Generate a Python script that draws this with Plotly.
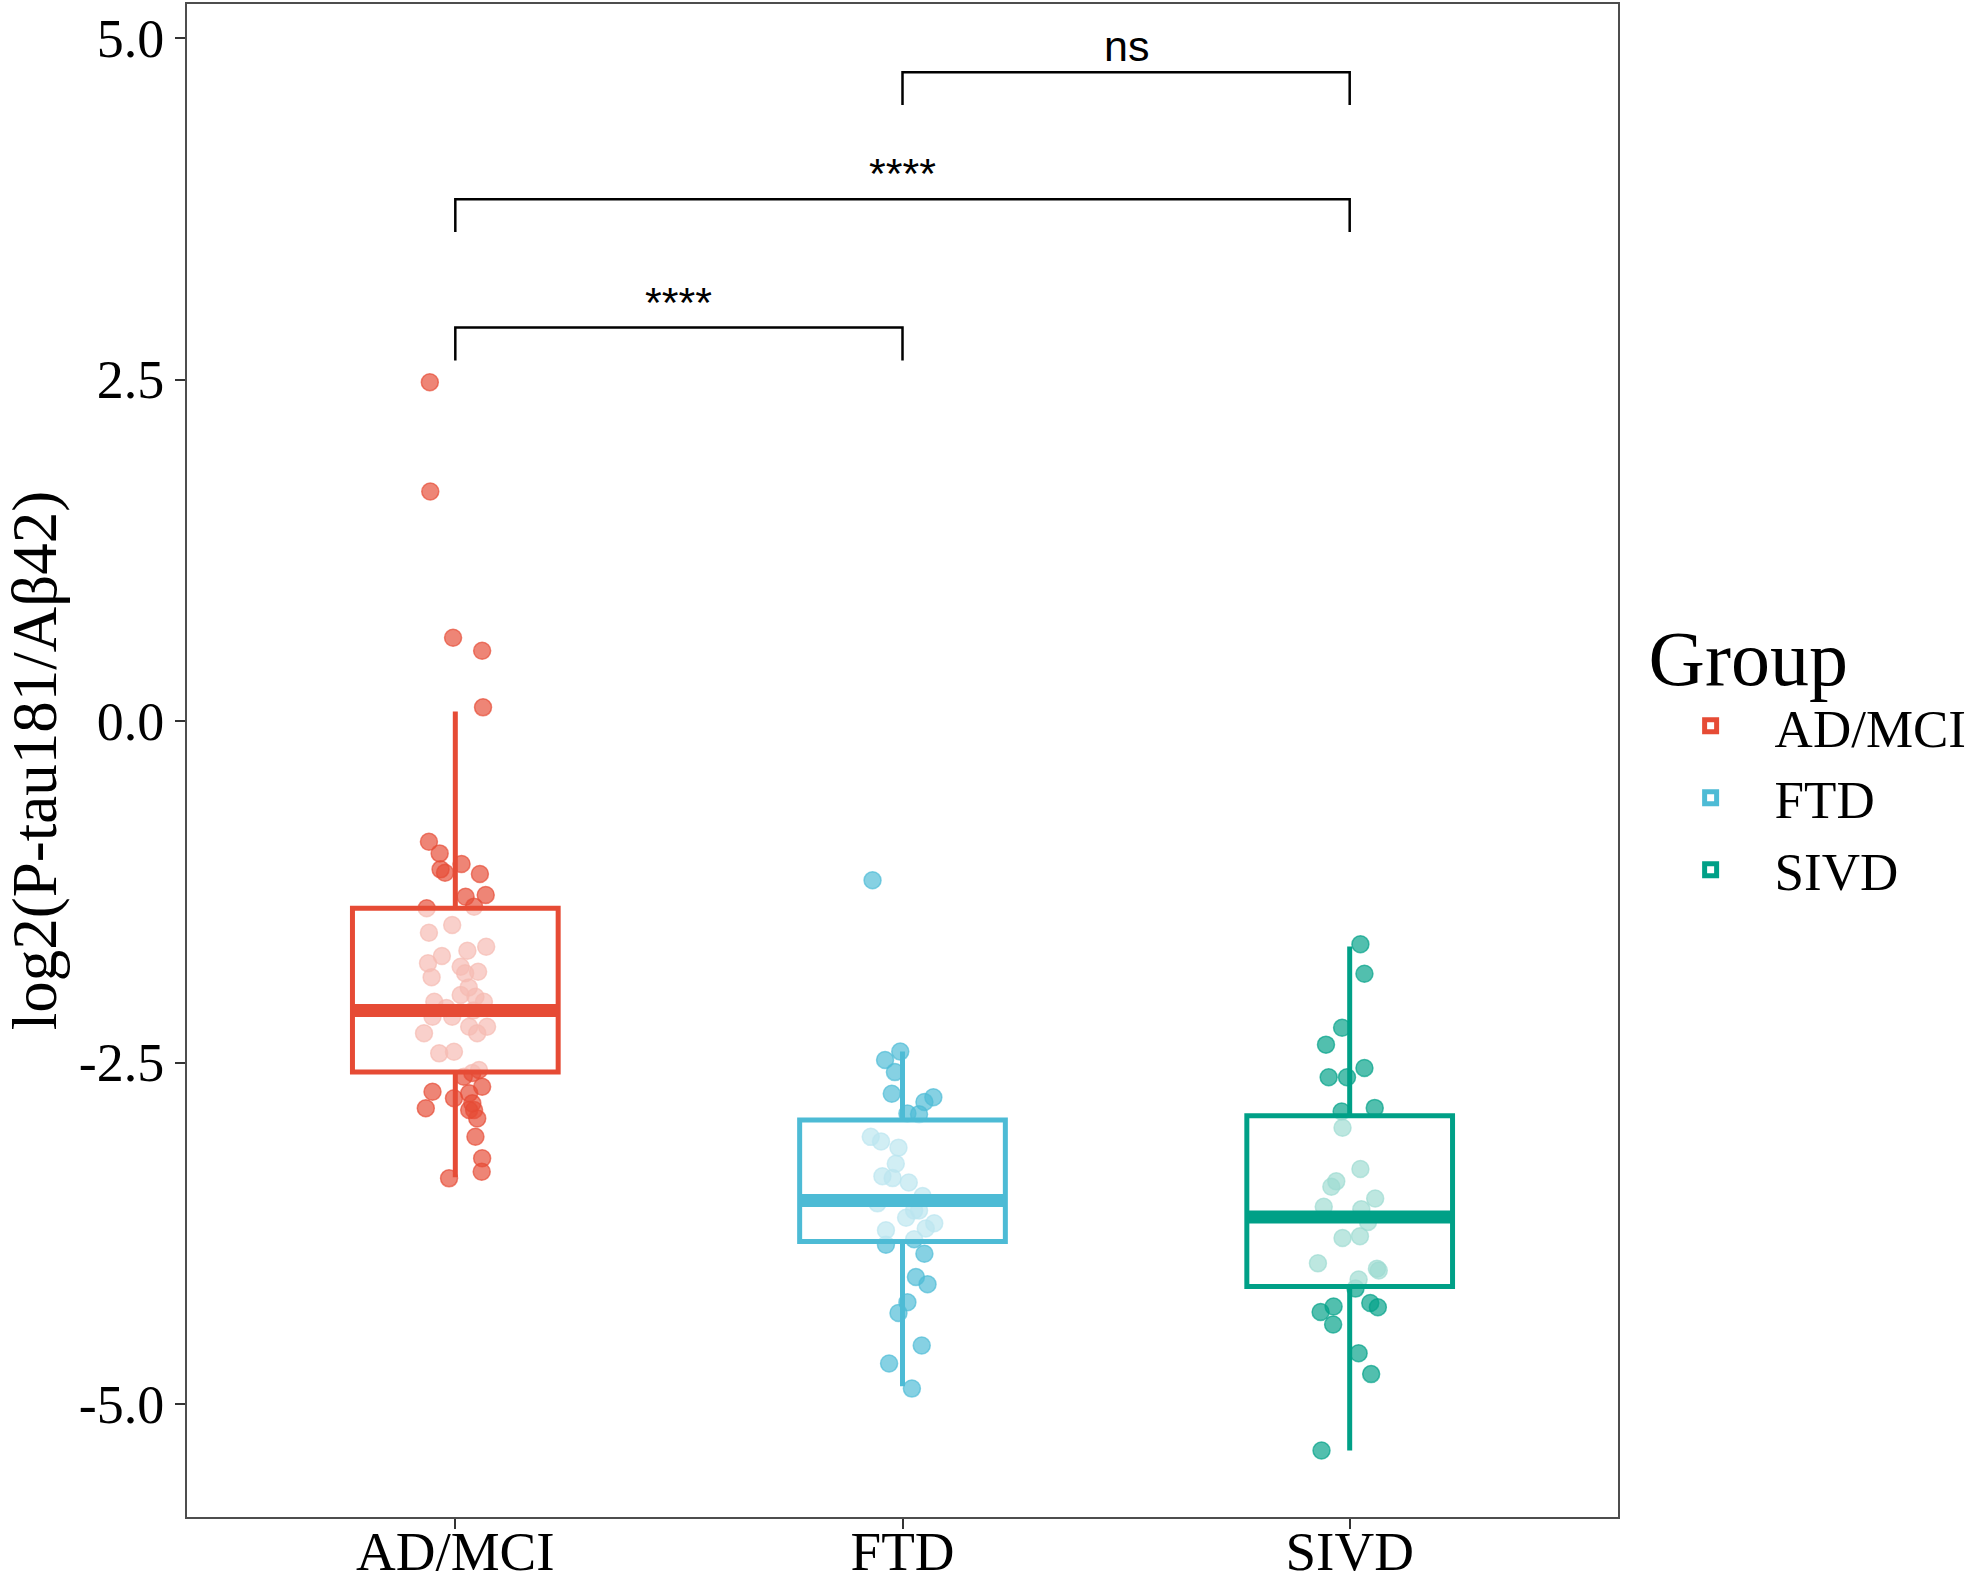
import plotly.graph_objects as go

# ---------------- data ----------------
groups = ["AD/MCI", "FTD", "SIVD"]
colors = ["#E64B35", "#4DBBD5", "#00A087"]
point_colors = ["rgba(230,75,53,0.68)", "rgba(77,187,213,0.68)", "rgba(0,160,135,0.68)"]

# box statistics
q1 = [-2.57, -3.81, -4.14]
median = [-2.12, -3.51, -3.63]
q3 = [-1.37, -2.92, -2.89]
lowerfence = [-3.34, -4.87, -5.34]
upperfence = [0.07, -2.42, -1.65]

# jittered points (value, horizontal jitter in category units)
ad_values = [2.48, 1.68, 0.61, 0.515, 0.10,
             -0.884, -0.969, -1.047, -1.086, -1.111, -1.120, -1.274, -1.286, -1.359, -1.371,
             -1.493, -1.550, -1.652, -1.682, -1.774, -1.799, -1.847, -1.835, -1.876, -2.006,
             -2.018, -2.055, -2.055, -2.165, -2.286, -2.165, -2.238, -2.286, -2.238, -2.433,
             -2.421, -2.577, -2.555, -2.604, -2.677, -2.714, -2.762, -2.725, -2.799, -2.848,
             -2.848, -2.909, -2.835, -3.043, -3.201, -3.299, -3.348, -1.95, -2.10, -2.12, -1.72]
ad_jitter = [-0.057, -0.056, -0.005, 0.060, 0.062,
             -0.059, -0.035, 0.014, -0.033, -0.023, 0.055, 0.068, 0.023, 0.042, -0.064,
             -0.007, -0.059, 0.069, 0.027, -0.061, 0.012, 0.022, 0.051, -0.053, 0.012,
             0.045, -0.047, 0.064, -0.051, -0.070, -0.007, 0.031, 0.049, 0.071, -0.036,
             -0.003, 0.038, 0.053, 0.019, 0.060, -0.051, -0.003, 0.031, 0.038, 0.042,
             0.031, 0.049, -0.066, 0.045, 0.060, 0.059, -0.014, 0.030, -0.020, 0.040, -0.030]

ftd_values = [-1.166, -2.420, -2.482, -2.570, -2.728, -2.754, -2.789, -2.873, -2.878,
              -3.044, -3.078, -3.123, -3.241, -3.333, -3.346, -3.378, -3.478, -3.583, -3.583,
              -3.531, -3.636, -3.676, -3.715, -3.728, -3.834, -3.794, -3.900, -4.070, -4.123,
              -4.255, -4.334, -4.571, -4.703, -4.887]
ftd_jitter = [-0.067, -0.005, -0.039, -0.017, -0.024, 0.069, 0.049, 0.011, 0.037,
              -0.071, -0.048, -0.009, -0.015, -0.045, -0.022, 0.014, 0.045, 0.026, 0.037,
              -0.056, 0.008, 0.071, 0.052, -0.037, -0.037, 0.026, 0.049, 0.030, 0.056,
              0.011, -0.009, 0.043, -0.030, 0.021]

sivd_values = [-1.634, -1.850, -2.245, -2.369, -2.540, -2.608, -2.608, -2.859, -2.832,
               -2.977, -3.280, -3.370, -3.409, -3.496, -3.556, -3.575, -3.667, -3.785, -3.772,
               -3.970, -4.009, -4.023, -4.089, -4.155, -4.286, -4.326, -4.260, -4.291, -4.418,
               -4.628, -4.781, -5.340]
sivd_jitter = [0.024, 0.033, -0.017, -0.053, 0.033, -0.047, -0.006, -0.018, 0.056,
               -0.016, 0.024, -0.030, -0.041, 0.057, -0.058, 0.026, 0.041, -0.016, 0.023,
               -0.071, 0.061, 0.065, 0.020, 0.013, -0.036, -0.065, 0.046, 0.063, -0.037,
               0.020, 0.048, -0.063]

values = [ad_values, ftd_values, sivd_values]
jitters = [ad_jitter, ftd_jitter, sivd_jitter]

# significance brackets
comparisons = [(0, 1), (0, 2), (1, 2)]
bracket_y = [2.88, 3.82, 4.75]
bracket_labels = ["****", "****", "ns"]

y_ticks = [-5.0, -2.5, 0.0, 2.5, 5.0]

# ---------------- figure ----------------
BOX_W = 0.46
TIP = 0.24
fig = go.Figure()

# points on base axes (drawn underneath)
for i, g in enumerate(groups):
    fig.add_trace(go.Scatter(
        x=[i + j for j in jitters[i]], y=values[i], mode="markers",
        marker=dict(size=17, color=point_colors[i],
                    line=dict(color=point_colors[i], width=1.5)),
        showlegend=False, hoverinfo="y", xaxis="x", yaxis="y"))

# boxes on overlay axes (drawn above points)
for i, g in enumerate(groups):
    fig.add_trace(go.Box(
        x=[i], q1=[q1[i]], median=[median[i]], q3=[q3[i]],
        lowerfence=[lowerfence[i]], upperfence=[upperfence[i]],
        width=BOX_W, whiskerwidth=0, name=g, boxpoints=False,
        line=dict(color=colors[i], width=5),
        fillcolor="rgba(255,255,255,0.62)",
        xaxis="x2", yaxis="y2", showlegend=True))
    fig.add_trace(go.Scatter(
        x=[i - BOX_W / 2, i + BOX_W / 2], y=[median[i], median[i]], mode="lines",
        line=dict(color=colors[i], width=13), showlegend=False, hoverinfo="skip",
        xaxis="x2", yaxis="y2"))

# brackets
for (a, b), yb, lab in zip(comparisons, bracket_y, bracket_labels):
    fig.add_trace(go.Scatter(
        x=[a, a, b, b], y=[yb - TIP, yb, yb, yb - TIP], mode="lines",
        line=dict(color="black", width=2.5), showlegend=False, hoverinfo="skip",
        xaxis="x2", yaxis="y2"))
    fig.add_annotation(x=(a + b) / 2, y=yb, xref="x2", yref="y2", text=lab,
                       showarrow=False, yanchor="bottom", yshift=0,
                       font=dict(family="Liberation Sans", size=43, color="black"))

XR = [-0.6, 2.6]
YR = [-5.827, 5.249]
axis_common = dict(showgrid=False, zeroline=False, automargin=False)
fig.update_layout(
    width=1983, height=1584,
    margin=dict(l=187, r=365, t=4, b=67),
    paper_bgcolor="white", plot_bgcolor="white",
    font=dict(family="Liberation Serif", color="black"),
    xaxis=dict(range=XR, tickvals=[0, 1, 2], ticktext=groups,
               ticks="outside", ticklen=10, tickwidth=2, tickcolor="#333333",
               showline=True, mirror=True, linecolor="#4d4d4d", linewidth=2,
               ticklabelstandoff=-25,
               tickfont=dict(size=55, family="Liberation Serif", color="black"),
               **axis_common),
    yaxis=dict(range=YR, tickvals=y_ticks, ticktext=[f"{v:.1f}" for v in y_ticks],
               ticks="outside", ticklen=10, tickwidth=2, tickcolor="#333333",
               showline=True, mirror=True, linecolor="#4d4d4d", linewidth=2,
               tickfont=dict(size=54, family="Liberation Serif", color="black"),
               title=dict(text="log2(P-tau181/Aβ42)", standoff=12,
                          font=dict(size=63, family="Liberation Serif", color="black")),
               **axis_common),
    xaxis2=dict(range=XR, overlaying="x", visible=False, **axis_common),
    yaxis2=dict(range=YR, overlaying="y", visible=False, **axis_common),
    legend=dict(title=dict(text="Group", font=dict(size=78, family="Liberation Serif")),
                font=dict(size=53, family="Liberation Serif", color="black"),
                x=1.02, xanchor="left", y=0.617, yanchor="top",
                tracegroupgap=0, itemwidth=118,
                bgcolor="rgba(0,0,0,0)"),
)

fig.write_html("out.html", config={"displayModeBar": False},
               post_script="document.body.style.margin='0px';document.body.style.overflow='hidden';")
